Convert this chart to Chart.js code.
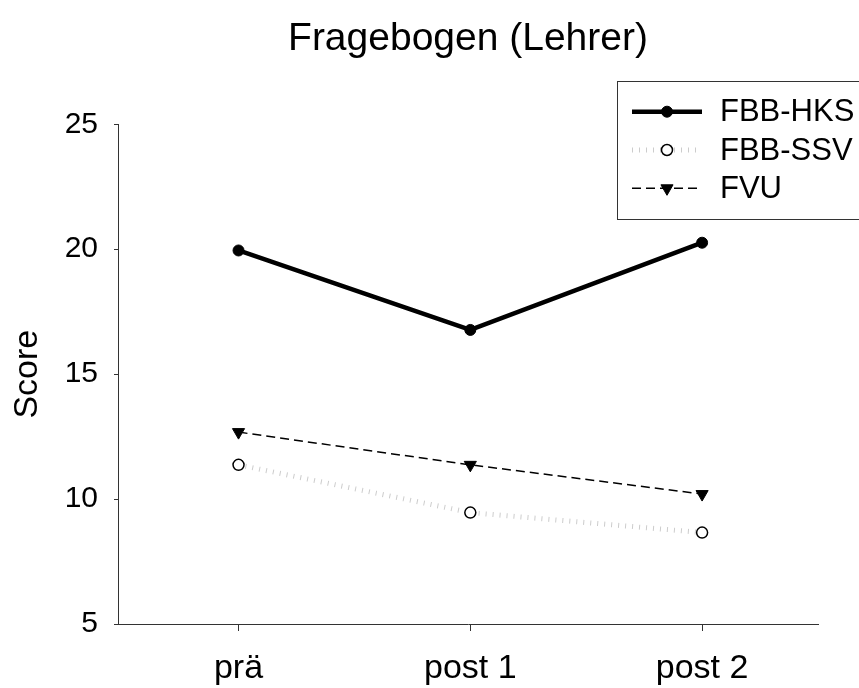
<!DOCTYPE html>
<html>
<head>
<meta charset="utf-8">
<script src="https://cdn.jsdelivr.net/npm/chart.js@4/dist/chart.umd.min.js"></script>
<style>
  html, body { margin: 0; padding: 0; background: #fff; }
  #wrap { width: 859px; height: 688px; }
</style>
</head>
<body>
<div id="wrap"><canvas id="chart" width="859" height="688"></canvas></div>
<script>
// values
const categories = ["prä", "post 1", "post 2"];
const hksValues = [19.95, 16.77, 20.26];
const ssvValues = [11.37, 9.46, 8.66];
const fvuValues = [12.68, 11.37, 10.2];
const yTicks = [5, 10, 15, 20, 25];
const seriesNames = ["FBB-HKS", "FBB-SSV", "FVU"];

const FONT = '"Liberation Sans", Arial, sans-serif';

const toPoints = (vals) => vals.map((v, i) => ({ x: i, y: v }));

// boxed legend sitting in the top-right corner, like the original plot
const boxLegend = {
  id: "boxLegend",
  afterDraw(chart) {
    const ctx = chart.ctx;
    const left = 617.5, top = 81.5, bottom = 219.5;
    ctx.save();
    ctx.strokeStyle = "#333";
    ctx.lineWidth = 1;
    ctx.strokeRect(left, top, 870 - left, bottom - top);

    const rows = [111.7, 150, 188.3];
    chart.data.datasets.forEach((ds, i) => {
      const y = rows[i];
      ctx.save();
      ctx.strokeStyle = ds.borderColor;
      ctx.lineWidth = ds.borderWidth;
      ctx.setLineDash(ds.borderDash || []);
      ctx.beginPath();
      ctx.moveTo(632, y);
      ctx.lineTo(702, y);
      ctx.stroke();
      ctx.restore();

      ctx.save();
      ctx.fillStyle = ds.pointBackgroundColor;
      ctx.strokeStyle = ds.pointBorderColor;
      ctx.lineWidth = ds.pointBorderWidth;
      Chart.helpers.drawPoint(ctx, {
        pointStyle: ds.pointStyle,
        rotation: ds.pointRotation || 0,
        radius: ds.pointRadius,
        borderWidth: ds.pointBorderWidth
      }, 667, y);
      ctx.restore();

      ctx.fillStyle = "#000";
      ctx.font = "31px " + FONT;
      ctx.textBaseline = "middle";
      ctx.textAlign = "left";
      ctx.fillText(ds.label, 720, y + 1);
    });
    ctx.restore();
  }
};

new Chart(document.getElementById("chart"), {
  type: "line",
  data: {
    datasets: [
      {
        label: seriesNames[0],
        data: toPoints(hksValues),
        borderColor: "#000",
        borderWidth: 4.5,
        pointStyle: "circle",
        pointRadius: 5.5,
        pointBackgroundColor: "#000",
        pointBorderColor: "#000",
        pointBorderWidth: 1
      },
      {
        label: seriesNames[1],
        data: toPoints(ssvValues),
        borderColor: "#cccccc",
        borderWidth: 5,
        borderDash: [1, 6],
        pointStyle: "circle",
        pointRadius: 5.5,
        pointBackgroundColor: "#fff",
        pointBorderColor: "#000",
        pointBorderWidth: 1.5
      },
      {
        label: seriesNames[2],
        data: toPoints(fvuValues),
        borderColor: "#000",
        borderWidth: 1.5,
        borderDash: [9, 5],
        pointStyle: "triangle",
        pointRotation: 180,
        pointRadius: 7,
        pointBackgroundColor: "#000",
        pointBorderColor: "#000",
        pointBorderWidth: 1
      }
    ]
  },
  options: {
    responsive: false,
    animation: false,
    devicePixelRatio: 1,
    layout: { padding: { left: 0, right: 41, top: 0, bottom: 0 } },
    plugins: {
      legend: { display: false },
      tooltip: { enabled: false },
      title: {
        display: true,
        fullSize: false,
        text: "Fragebogen (Lehrer)",
        color: "#000",
        font: { family: FONT, size: 39, weight: "normal" },
        padding: { top: 16, bottom: 61.5 }
      }
    },
    scales: {
      x: {
        type: "linear",
        min: -0.52,
        max: 2.5,
        afterBuildTicks: (scale) => {
          scale.ticks = categories.map((_, i) => ({ value: i }));
        },
        afterFit: (scale) => { scale.height = 64; },
        border: { display: true, color: "#333", width: 1 },
        grid: { drawOnChartArea: false, drawTicks: true, tickLength: 7, color: "#333" },
        ticks: {
          color: "#000",
          padding: 17,
          maxRotation: 0,
          font: { family: FONT, size: 34 },
          callback: (v) => categories[v]
        }
      },
      y: {
        min: 5,
        max: 25,
        afterBuildTicks: (scale) => {
          scale.ticks = yTicks.map((v) => ({ value: v }));
        },
        afterFit: (scale) => { scale.width = 118; },
        border: { display: true, color: "#333", width: 1 },
        grid: { drawOnChartArea: false, drawTicks: true, tickLength: 4, color: "#333" },
        ticks: {
          color: "#000",
          padding: 16,
          font: { family: FONT, size: 30 }
        },
        title: {
          display: true,
          text: "Score",
          color: "#000",
          font: { family: FONT, size: 34 },
          padding: { top: 7, bottom: 0 }
        }
      }
    }
  },
  plugins: [boxLegend]
});
</script>
</body>
</html>
